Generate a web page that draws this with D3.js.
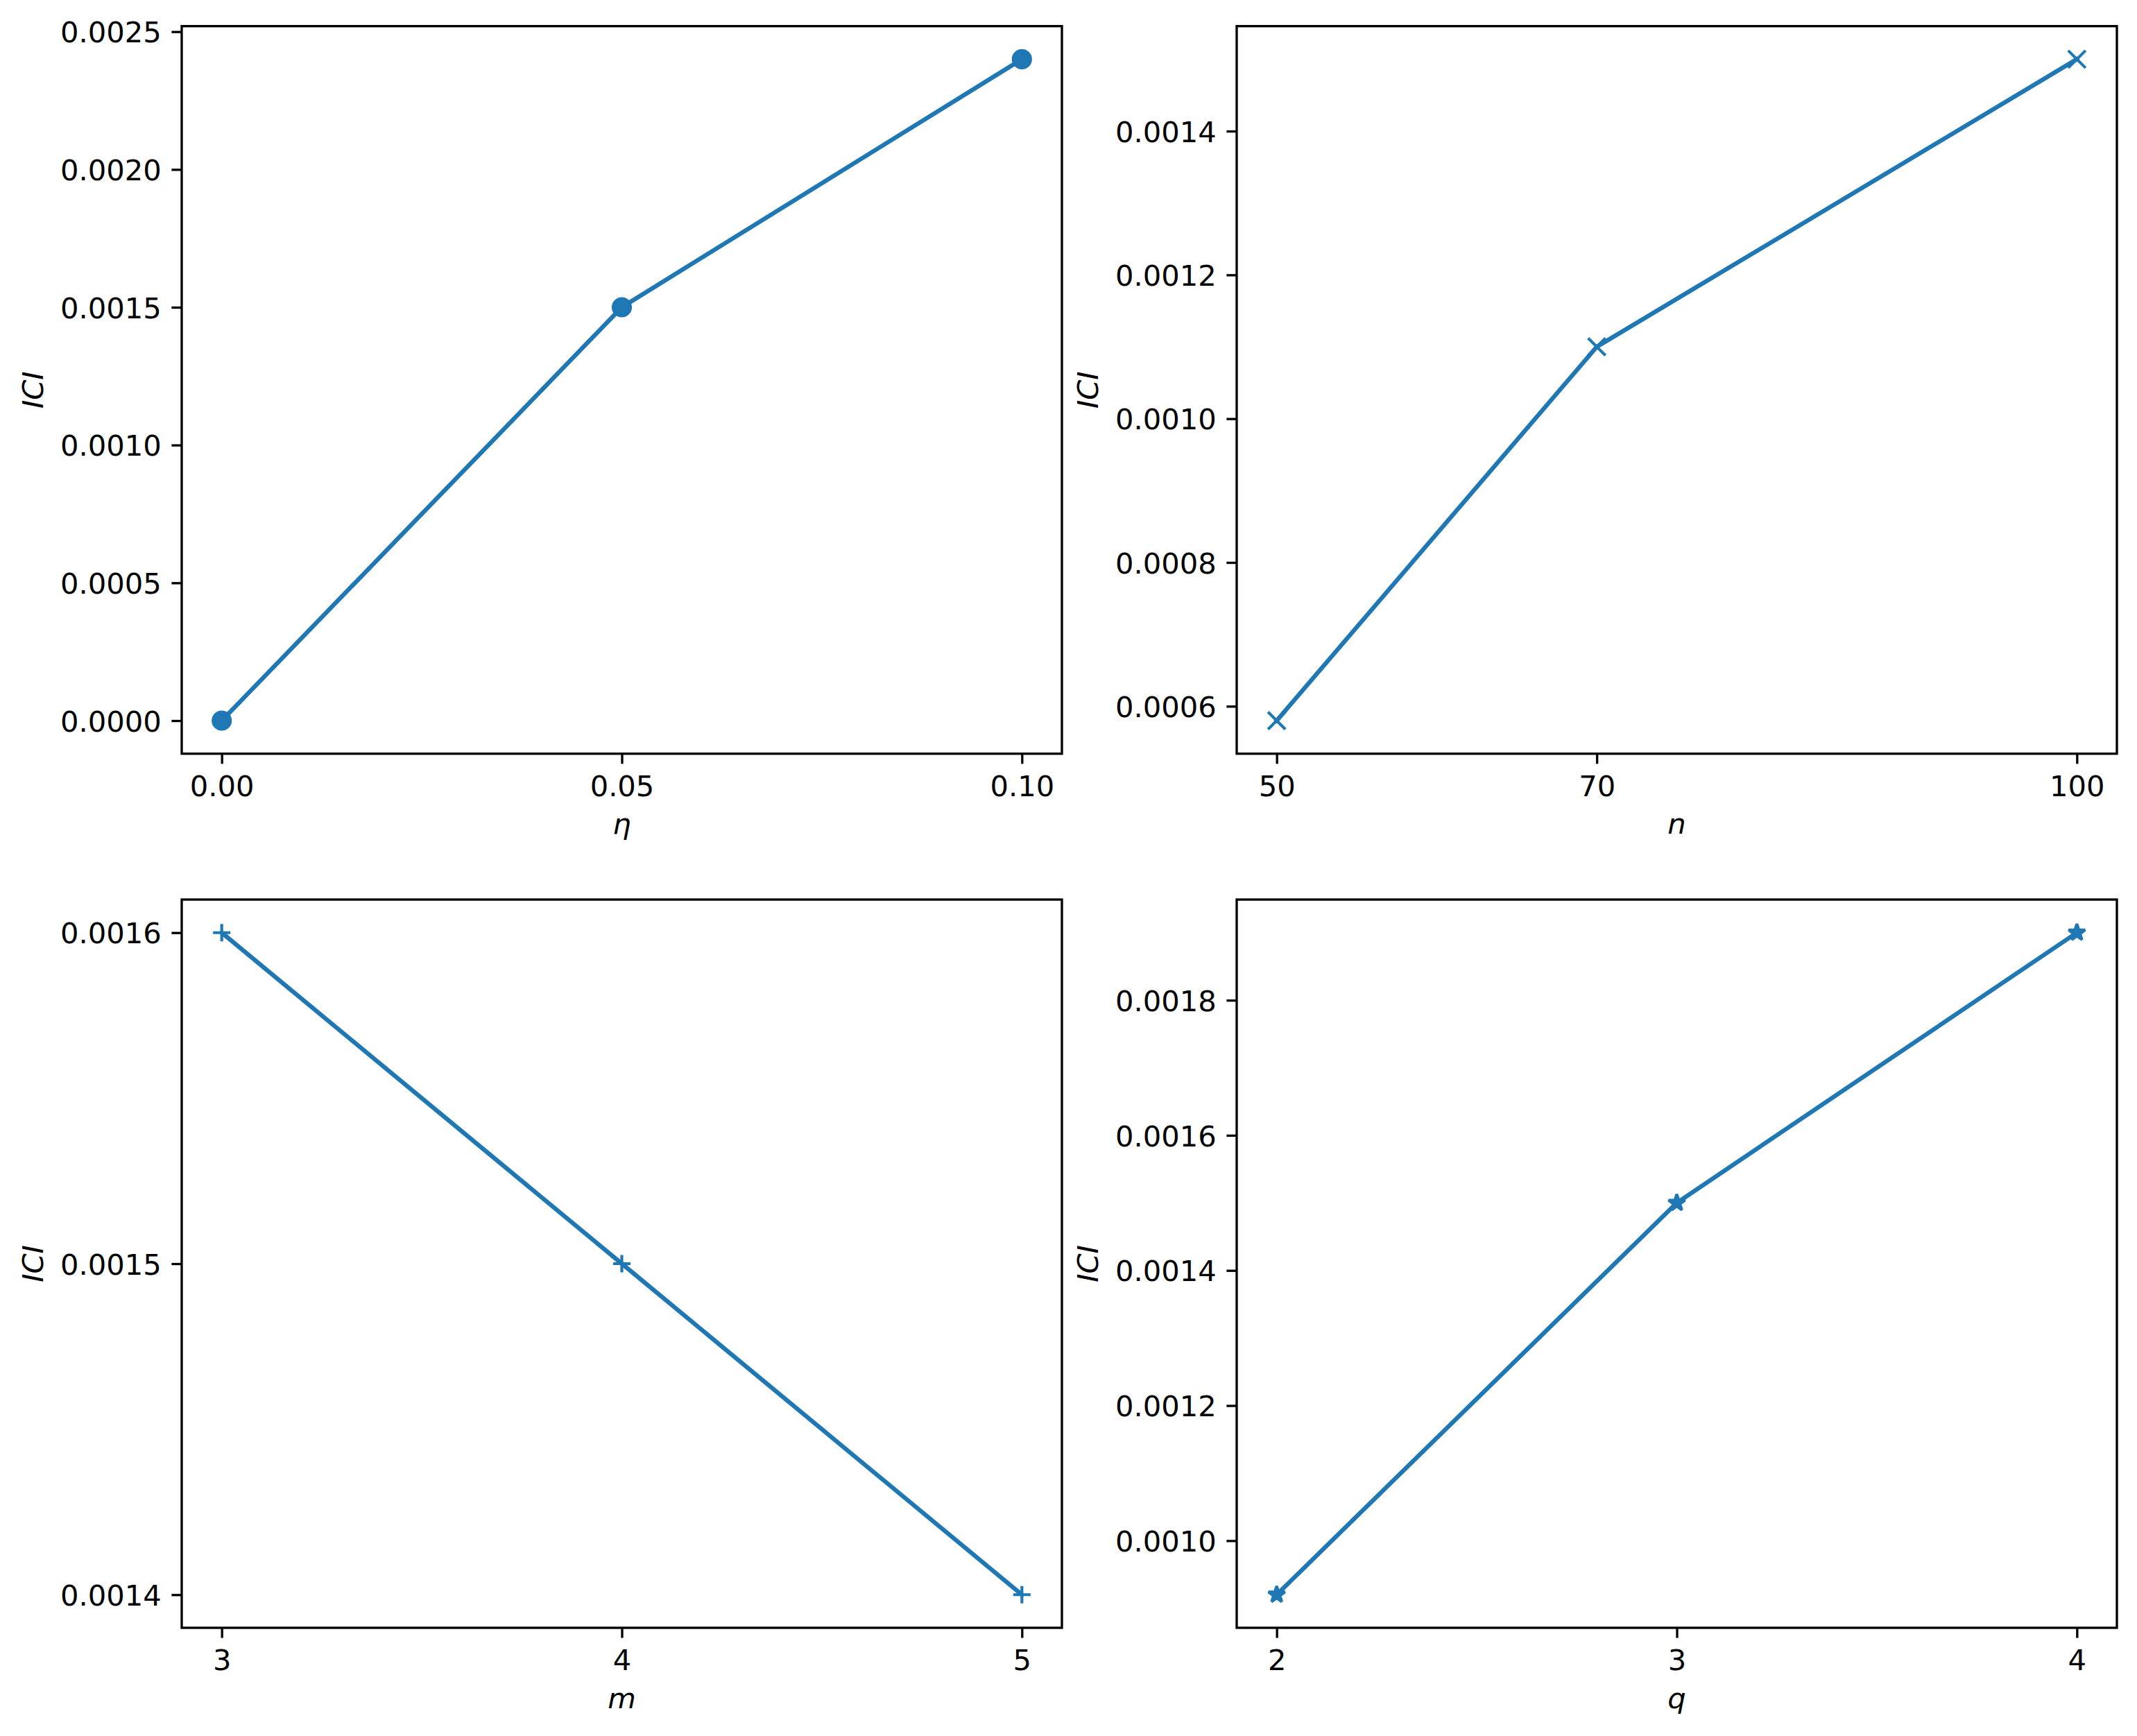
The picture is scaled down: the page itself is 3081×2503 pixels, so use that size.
<!DOCTYPE html>
<html>
<head>
<meta charset="utf-8">
<script src="https://cdn.jsdelivr.net/npm/d3@7"></script>
<style>
  html, body { margin: 0; padding: 0; background: #fff; }
  svg { display: block; }
  text { font-family: "DejaVu Sans", sans-serif; fill: #000; }
</style>
</head>
<body>
<script>
// ---- data ----
const etaX = [0.0, 0.05, 0.1];
const etaY = [0.0, 0.0015, 0.0024];
const nX = [50, 70, 100];
const nY = [0.00058, 0.0011, 0.0015];
const mX = [3, 4, 5];
const mY = [0.0016, 0.0015, 0.0014];
const qX = [2, 3, 4];
const qY = [0.00092, 0.0015, 0.0019];

const etaXTicks = [0.0, 0.05, 0.1];
const etaYTicks = [0.0, 0.0005, 0.001, 0.0015, 0.002, 0.0025];
const nXTicks = [50, 70, 100];
const nYTicks = [0.0006, 0.0008, 0.001, 0.0012, 0.0014];
const mXTicks = [3, 4, 5];
const mYTicks = [0.0014, 0.0015, 0.0016];
const qXTicks = [2, 3, 4];
const qYTicks = [0.0010, 0.0012, 0.0014, 0.0016, 0.0018];

const xLabels = ["η", "n", "m", "q"];
const yLabel = "ICI";

// ---- layout ----
const W = 3081, H = 2503;
const color = "#1f77b4";
const fs = 41.67;
const spineW = 3.33, tickLen = 14.6, pad = 14.6;
const lineW = 6.25, ms = 25, mew = 4.17;

const cols = [[262, 1531], [1783, 3052]];
const rows = [[37.7, 1086.7], [1297, 2347]];

const panels = [
  {x: etaX, y: etaY, xt: etaXTicks, yt: etaYTicks, xf: d3.format(".2f"), yf: d3.format(".4f"), marker: "o", xl: xLabels[0], c: 0, r: 0},
  {x: nX, y: nY, xt: nXTicks, yt: nYTicks, xf: d3.format("d"), yf: d3.format(".4f"), marker: "x", xl: xLabels[1], c: 1, r: 0},
  {x: mX, y: mY, xt: mXTicks, yt: mYTicks, xf: d3.format("d"), yf: d3.format(".4f"), marker: "+", xl: xLabels[2], c: 0, r: 1},
  {x: qX, y: qY, xt: qXTicks, yt: qYTicks, xf: d3.format("d"), yf: d3.format(".4f"), marker: "*", xl: xLabels[3], c: 1, r: 1},
];

const svg = d3.select("body").append("svg").attr("width", W).attr("height", H);
svg.append("rect").attr("width", W).attr("height", H).attr("fill", "#fff");

function pad5(ext) {
  const r = ext[1] - ext[0];
  return [ext[0] - 0.05 * r, ext[1] + 0.05 * r];
}

function starPath(R) {
  const pts = [];
  const ri = R * 0.381966;
  for (let i = 0; i < 10; i++) {
    const a = -Math.PI / 2 + i * Math.PI / 5;
    const rr = i % 2 === 0 ? R : ri;
    pts.push([rr * Math.cos(a), rr * Math.sin(a)]);
  }
  return "M" + pts.map(p => p.join(",")).join("L") + "Z";
}

panels.forEach(p => {
  const [x0, x1] = cols[p.c];
  const [y0, y1] = rows[p.r];
  const xs = d3.scaleLinear().domain(pad5(d3.extent(p.x))).range([x0, x1]);
  const ys = d3.scaleLinear().domain(pad5(d3.extent(p.y))).range([y1, y0]);
  const g = svg.append("g");

  // line
  const data = p.x.map((v, i) => [v, p.y[i]]);
  g.append("path")
    .attr("d", d3.line().x(d => xs(d[0])).y(d => ys(d[1]))(data))
    .attr("fill", "none").attr("stroke", color).attr("stroke-width", lineW)
    .attr("stroke-linejoin", "round").attr("stroke-linecap", "square");

  // markers
  const mg = g.selectAll("g.mk").data(data).enter().append("g")
    .attr("transform", d => `translate(${xs(d[0])},${ys(d[1])})`);
  const h = ms / 2;
  if (p.marker === "o") {
    mg.append("circle").attr("r", h).attr("fill", color).attr("stroke", color).attr("stroke-width", mew);
  } else if (p.marker === "x") {
    mg.append("path").attr("d", `M${-h},${-h}L${h},${h}M${-h},${h}L${h},${-h}`)
      .attr("stroke", color).attr("stroke-width", mew).attr("fill", "none");
  } else if (p.marker === "+") {
    mg.append("path").attr("d", `M${-h},0L${h},0M0,${-h}L0,${h}`)
      .attr("stroke", color).attr("stroke-width", mew).attr("fill", "none");
  } else if (p.marker === "*") {
    mg.append("path").attr("d", starPath(h)).attr("fill", color)
      .attr("stroke", color).attr("stroke-width", mew).attr("stroke-linejoin", "bevel");
  }

  // axes with D3
  const xAxis = d3.axisBottom(xs).tickValues(p.xt).tickFormat(p.xf).tickSize(tickLen).tickPadding(pad).tickSizeOuter(0);
  const yAxis = d3.axisLeft(ys).tickValues(p.yt).tickFormat(p.yf).tickSize(tickLen).tickPadding(pad).tickSizeOuter(0);
  const gx = g.append("g").attr("transform", `translate(0,${y1})`).call(xAxis);
  const gy = g.append("g").attr("transform", `translate(${x0},0)`).call(yAxis);
  [gx, gy].forEach(a => {
    a.select(".domain").remove();
    a.selectAll(".tick line").attr("stroke", "#000").attr("stroke-width", spineW);
    a.selectAll(".tick text").attr("font-family", "DejaVu Sans").attr("font-size", fs).attr("fill", "#000");
  });
  gx.selectAll(".tick text").attr("dy", null).attr("y", tickLen + pad + 31.7);
  gy.selectAll(".tick text").attr("dy", null).attr("y", 15.2).attr("x", -(tickLen + pad));

  // spines
  g.append("rect").attr("x", x0).attr("y", y0).attr("width", x1 - x0).attr("height", y1 - y0)
    .attr("fill", "none").attr("stroke", "#000").attr("stroke-width", spineW).attr("stroke-linejoin", "miter");

  // labels
  g.append("text").attr("x", (x0 + x1) / 2).attr("y", y1 + 115.5)
    .attr("text-anchor", "middle").attr("font-size", fs).attr("font-style", "italic").text(p.xl);
  const ylx = x0 - 200.5;
  g.append("text").attr("transform", `translate(${ylx},${(y0 + y1) / 2}) rotate(-90)`)
    .attr("text-anchor", "middle").attr("font-size", fs).attr("font-style", "italic").text(yLabel);
});
</script>
</body>
</html>
